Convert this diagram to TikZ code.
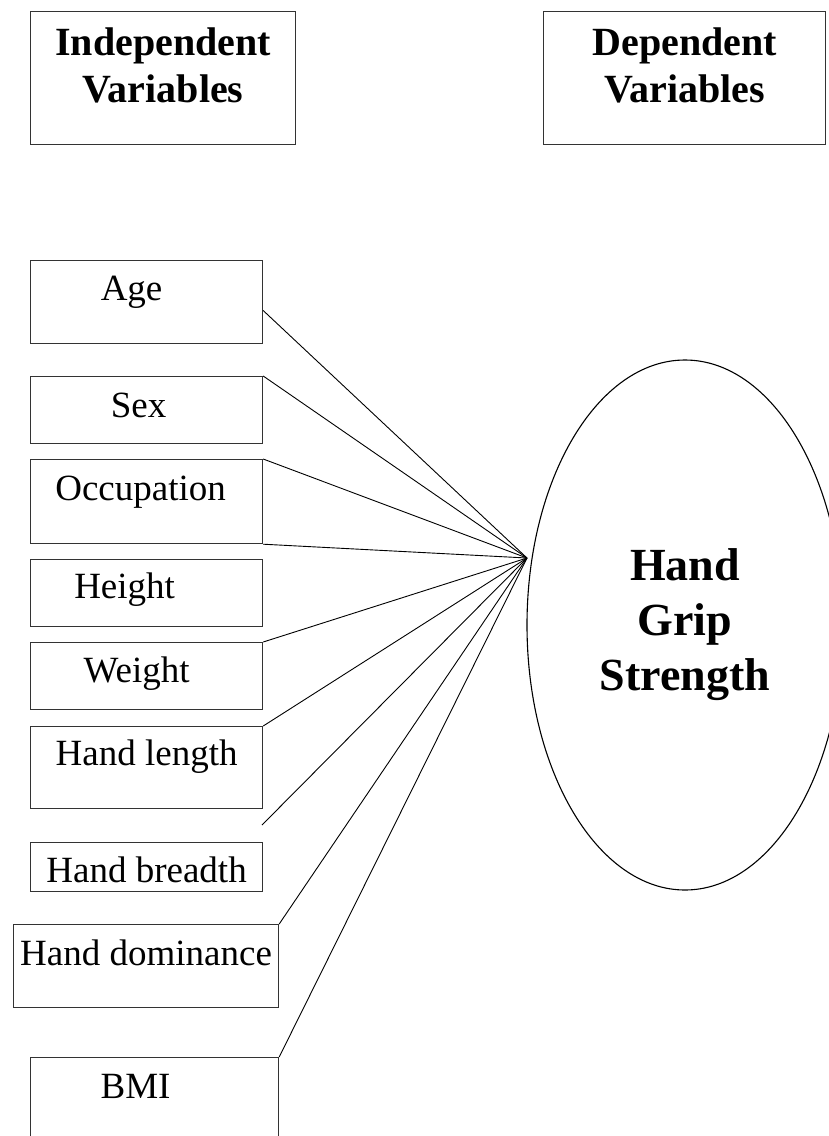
\documentclass[tikz,border=0pt]{standalone}
\usepackage{fontspec}
\setmainfont{Liberation Serif}
\usepackage{tikz}
\usetikzlibrary{calc,shapes.geometric}
\newcommand{\varfont}{\fontsize{37}{42}\selectfont}
\newcommand{\headfont}{\fontsize{40}{47}\selectfont\bfseries}
\newcommand{\hgsfont}{\fontsize{46}{55}\selectfont\bfseries}
\tikzset{
  varbox/.style={draw=black!80, line width=1.2pt, inner sep=0pt, anchor=north west, font=\varfont},
  headbox/.style={varbox, align=center, font=\headfont},
  outcome/.style={ellipse, draw, line width=1.1pt, inner sep=0pt, align=center, font=\hgsfont},
  link/.style={line width=0.9pt}
}
\begin{document}
\begin{tikzpicture}[x=1pt, y=-1pt]
\clip (0,0) rectangle (829,1136);
% headings
\node[headbox, minimum width=265pt, text height=91pt, text depth=42pt] (indep) at (30,11) {Independent\\Variables};
\node[headbox, minimum width=282pt, text height=91pt, text depth=42pt] (dep) at (543,11) {Dependent\\Variables};
% independent variables: name/left/right/top/bottom/baseline/shift/label
\foreach \nm/\lft/\rgt/\tp/\bt/\bl/\dx/\txt in {
  age/30/262/260/343/300/-15/Age,
  sex/30/262/376/443/417/-8/Sex,
  occ/30/262/459/543/500/-6/Occupation,
  height/30/262/559/626/598/-22/Height,
  weight/30/262/642/709/682/-10/Weight,
  handlen/30/262/726/808/765/0/Hand length,
  handbr/30/262/842/891/882/0/Hand breadth,
  handdom/13/278/924/1007/965/0/Hand dominance,
  bmi/30/278/1057/1160/1098/-19/BMI} {
  \pgfmathsetmacro{\bw}{\rgt-\lft}
  \pgfmathsetmacro{\hgt}{\bl-\tp}
  \pgfmathsetmacro{\dpt}{\bt-\bl}
  \pgfmathsetmacro{\sh}{2*\dx}
  \node[varbox, minimum width=\bw pt, text height=\hgt pt, text depth=\dpt pt] (\nm) at (\lft,\tp) {\hspace*{\sh pt}\txt};
}
% dependent variable
\node[outcome, minimum width=316pt, minimum height=530pt] (hgs) at (685,625) {Hand\\Grip\\Strength};
\coordinate (hub) at (527,558);
\coordinate (loose) at (262,825);
\coordinate (agepin) at ($(age.north east)!0.6!(age.south east)$);
\foreach \src in {agepin, sex.north east, occ.north east, occ.south east, weight.north east, handlen.north east, loose, handdom.north east, bmi.north east}
  \draw[link] (\src) -- (hub);
\end{tikzpicture}
\end{document}
